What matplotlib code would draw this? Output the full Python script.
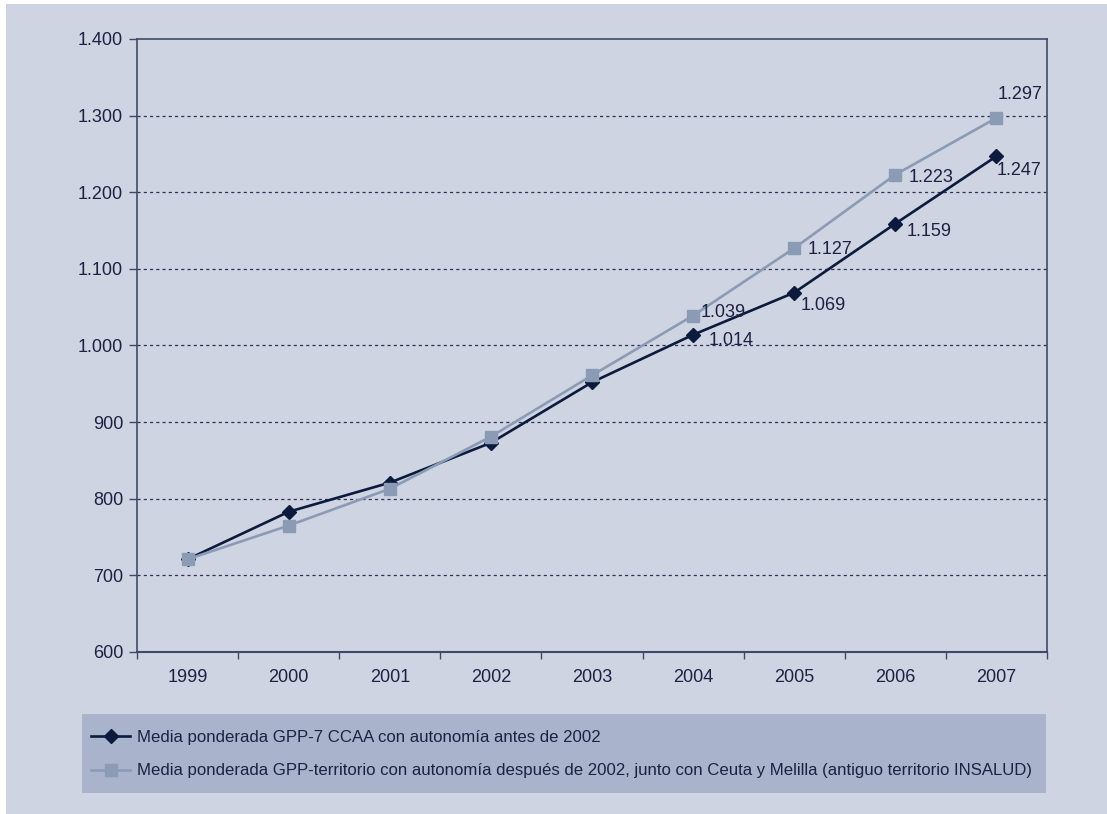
import matplotlib.pyplot as plt
from matplotlib.patches import Rectangle

plt.rcParams['font.family'] = ['Liberation Sans', 'DejaVu Sans']

# Data
years = ['1999', '2000', '2001', '2002', '2003', '2004', '2005', '2006', '2007']
gpp7 = [721, 783, 821, 873, 952, 1014, 1069, 1159, 1247]
gpp_ter = [721, 765, 813, 881, 961, 1039, 1127, 1223, 1297]
yticks = [600, 700, 800, 900, 1000, 1100, 1200, 1300, 1400]
ytick_labels = ['600', '700', '800', '900', '1.000', '1.100', '1.200', '1.300', '1.400']

label_gpp7 = 'Media ponderada GPP-7 CCAA con autonomía antes de 2002'
label_ter = ('Media ponderada GPP-territorio con autonomía después de 2002, '
             'junto con Ceuta y Melilla (antiguo territorio INSALUD)')

# point labels shown only for the last years, (index, offset px)
gpp7_lab = [(16, -6), (6, -13), (11, -8), (0, -14)]
ter_lab = [(8, 3), (13, -1), (13, -3), (1, 23)]
first_lab = 5

BG = '#CED4E1'
LEG_BG = '#A9B3CB'
DARK = '#0B1A3D'
GREY = '#8C9BB5'
AXC = '#3F4A6B'
TXT = '#1B2244'

fig = plt.figure(figsize=(11.07, 8.14), dpi=100)
fig.patch.set_facecolor('white')
fig.add_artist(Rectangle((6 / 1107, -0.02), 1, 1.02 - 4 / 814, transform=fig.transFigure,
                         facecolor=BG, edgecolor='none', zorder=0))
fig.add_artist(Rectangle((82 / 1107, 1 - 793 / 814), (1046 - 82) / 1107, 79 / 814,
                         transform=fig.transFigure, facecolor=LEG_BG,
                         edgecolor='none', zorder=0))

ax = fig.add_axes([137 / 1107, 1 - 652 / 814, 910 / 1107, 613 / 814])
ax.set_facecolor('none')

x = list(range(len(years)))
l1, = ax.plot(x, gpp7, color=DARK, lw=1.9, marker='D', ms=7, zorder=3)
l2, = ax.plot(x, gpp_ter, color=GREY, lw=1.9, marker='s', ms=8.5, zorder=4)

for k, (dx, dy) in enumerate(gpp7_lab):
    i = first_lab + k
    ax.annotate(f'{gpp7[i] / 1000:.3f}', (x[i], gpp7[i]), xytext=(dx, dy),
                textcoords='offset pixels', ha='left', va='center',
                fontsize=13, color=TXT, zorder=5)
for k, (dx, dy) in enumerate(ter_lab):
    i = first_lab + k
    ax.annotate(f'{gpp_ter[i] / 1000:.3f}', (x[i], gpp_ter[i]), xytext=(dx, dy),
                textcoords='offset pixels', ha='left', va='center',
                fontsize=13, color=TXT, zorder=5)

ax.set_xlim(-0.5, 8.5)
ax.set_ylim(600, 1400)
ax.set_yticks(yticks)
ax.set_yticklabels(ytick_labels)
ax.set_xticks(x)
ax.set_xticklabels(years)
ax.set_xticks([i - 0.5 for i in range(len(years) + 1)], minor=True)
ax.tick_params(axis='x', which='major', length=0, pad=12, labelsize=13, labelcolor=TXT)
ax.tick_params(axis='x', which='minor', length=5, width=1, color=AXC, direction='out')
ax.tick_params(axis='y', length=6, width=1, color=AXC, pad=4, labelsize=13, labelcolor=TXT)

for sp in ax.spines.values():
    sp.set_color(AXC)
    sp.set_linewidth(1.2)
ax.spines['bottom'].set_linewidth(1.5)

for v in yticks[1:-1]:
    ax.axhline(v, color='#2A3355', lw=0.9, ls=(0, (2.5, 2.5)), zorder=1)

fig.legend([l1, l2], [label_gpp7, label_ter], loc='upper left',
           bbox_to_anchor=(91 / 1107, 1 - 730 / 814), frameon=False,
           fontsize=12.1, labelcolor=TXT, handlelength=2.35, handletextpad=0.4,
           labelspacing=1.1, borderaxespad=0, borderpad=0)

fig.savefig('out.png', dpi=100, facecolor=fig.get_facecolor())
